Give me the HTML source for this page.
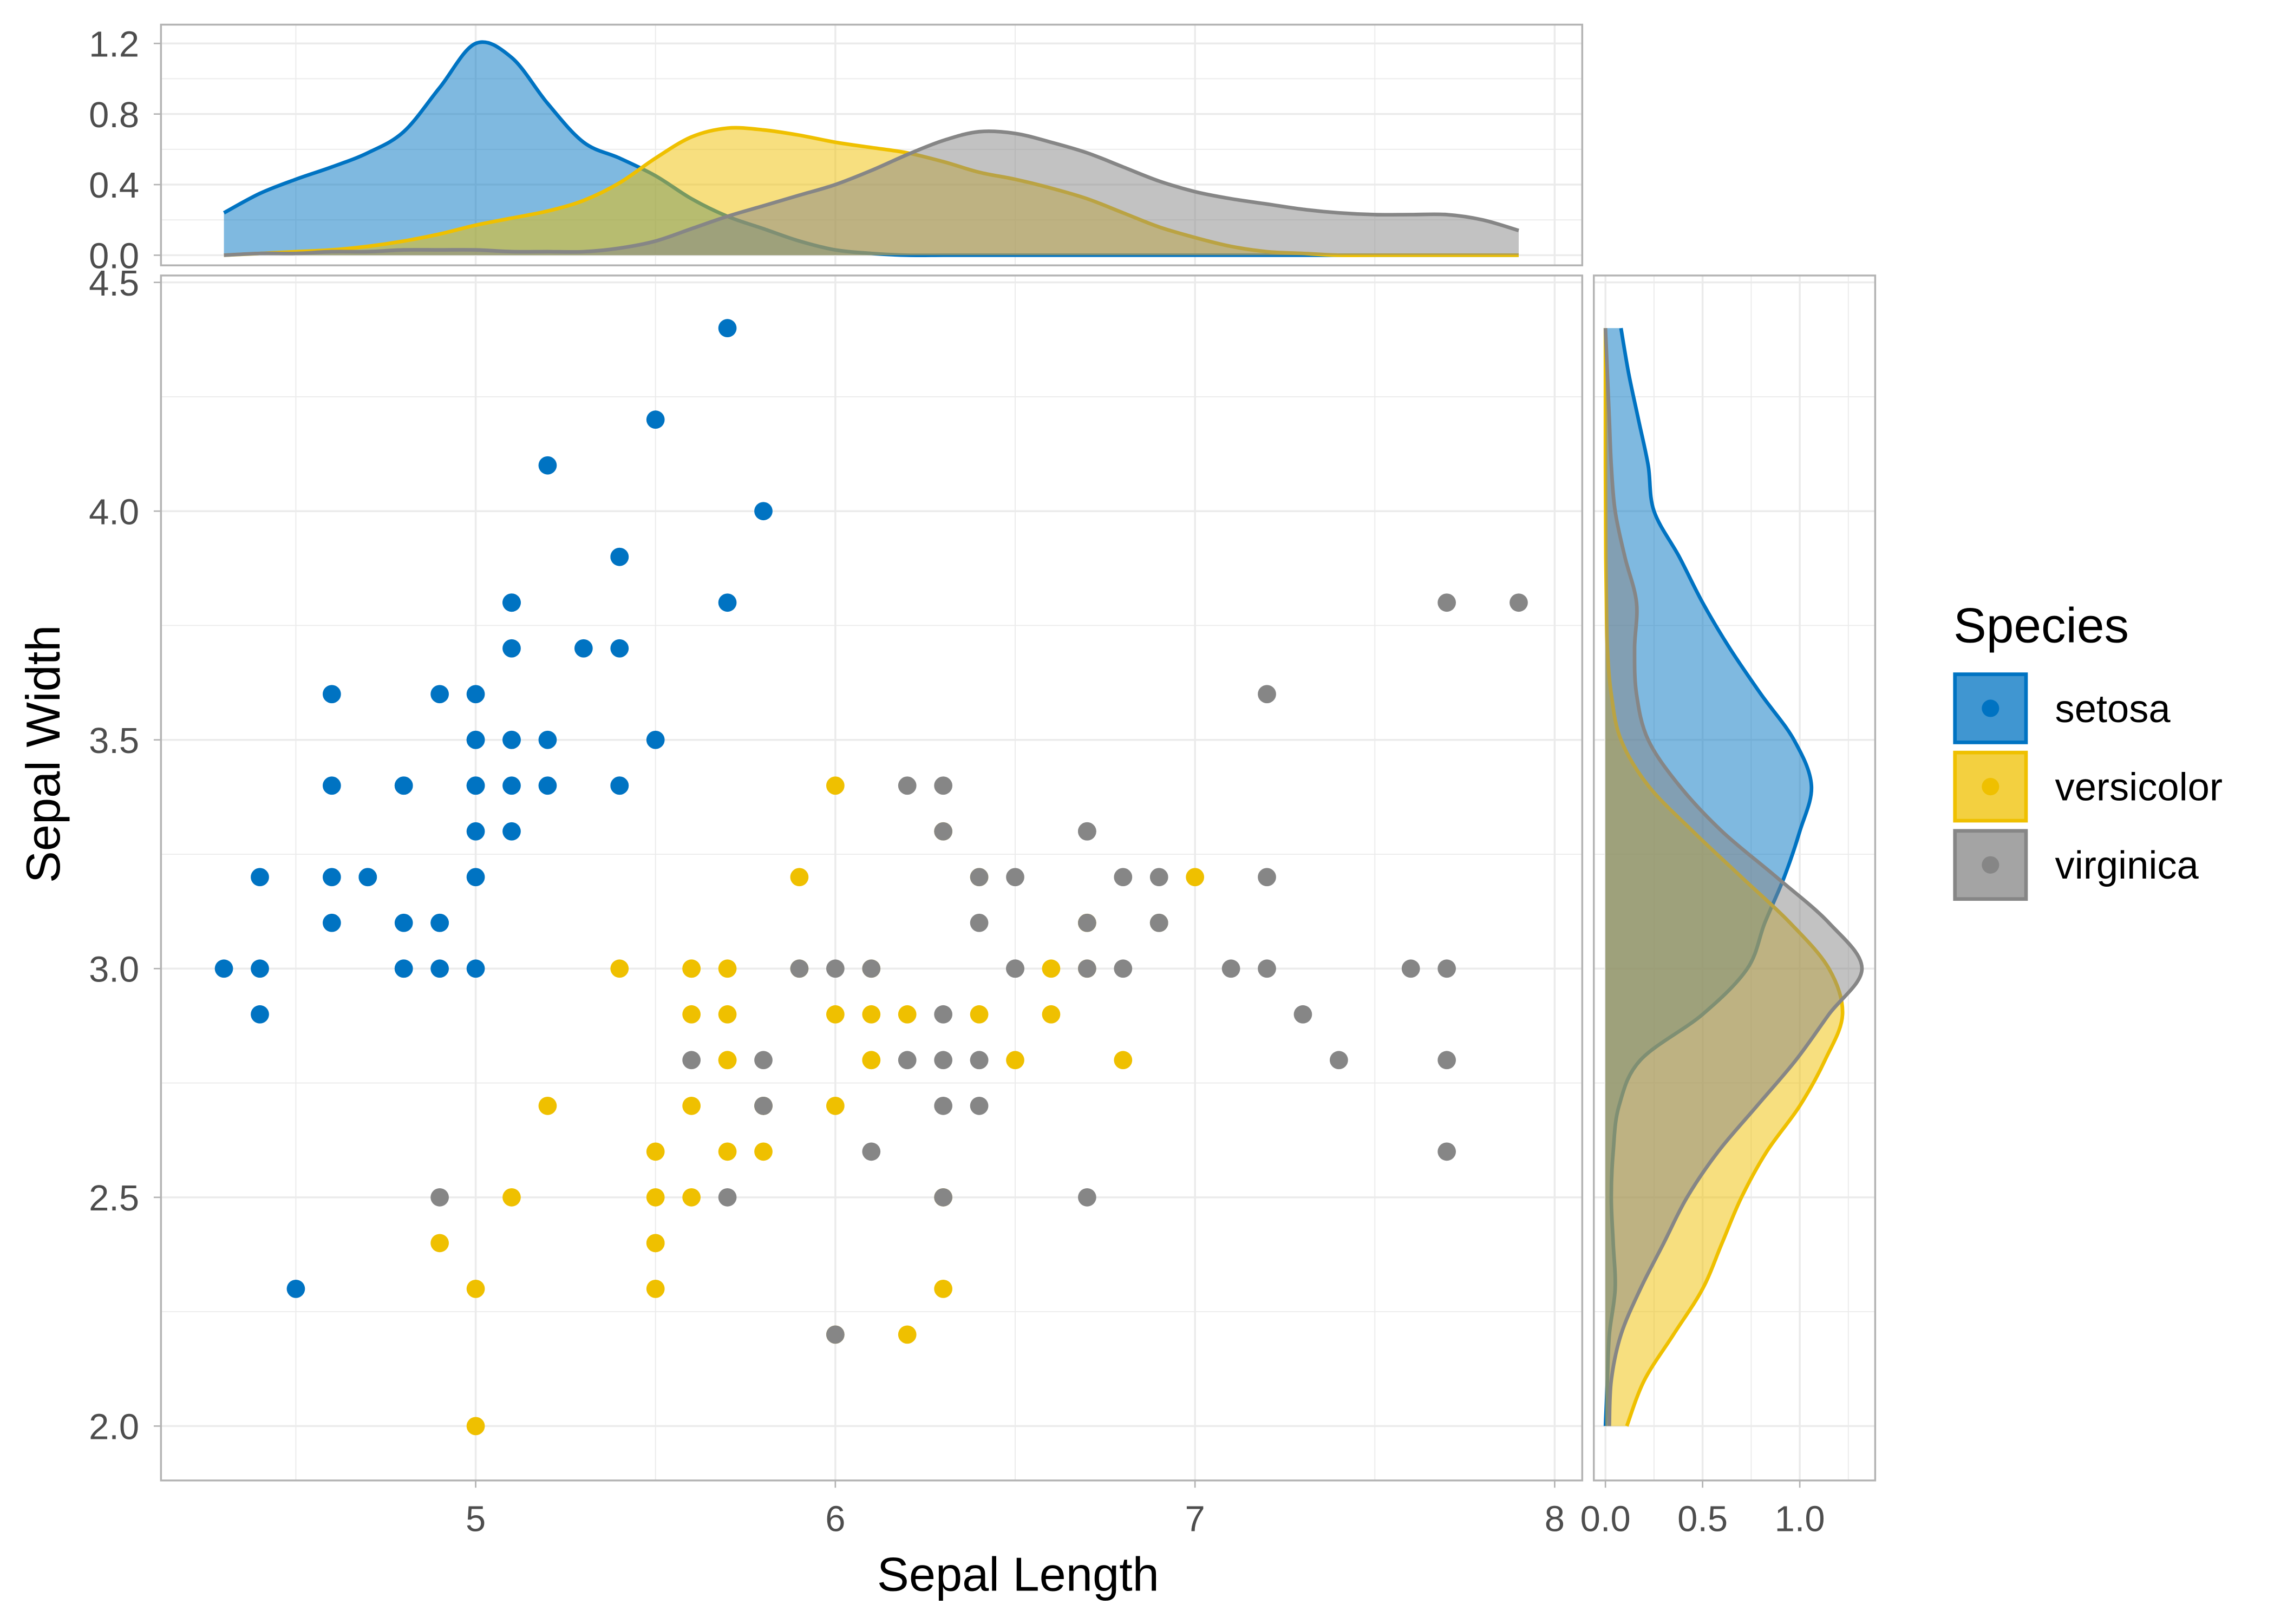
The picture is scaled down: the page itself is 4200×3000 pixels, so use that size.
<!DOCTYPE html>
<html><head><meta charset="utf-8"><style>
html,body{margin:0;padding:0;background:#fff}
svg{display:block}
text{font-family:"Liberation Sans",Arial,sans-serif}
</style></head><body>
<svg id="chart" width="4200" height="3000" viewBox="0 0 1568 1120" preserveAspectRatio="none" xmlns="http://www.w3.org/2000/svg">
<g id="mainPanel"></g>
<g id="topPanel"></g>
<g id="rightPanel"></g>
<text x="702" y="1097" font-size="33" text-anchor="middle">Sepal Length</text>
<text transform="translate(41,520) rotate(-90)" font-size="33" text-anchor="middle">Sepal Width</text>
<g>
<text x="1347" y="443" font-size="34">Species</text>
<g><rect x="1348" y="465" width="49" height="47" fill="rgba(0,115,194,0.75)" stroke="#0073C2" stroke-width="2.5"/><circle cx="1372.5" cy="488.5" r="6" fill="#0073C2"/><text x="1417" y="498" font-size="27">setosa</text></g>
<g><rect x="1348" y="519" width="49" height="47" fill="rgba(239,192,0,0.75)" stroke="#EFC000" stroke-width="2.5"/><circle cx="1372.5" cy="542.5" r="6" fill="#EFC000"/><text x="1417" y="552" font-size="27">versicolor</text></g>
<g><rect x="1348" y="573" width="49" height="47" fill="rgba(134,134,134,0.75)" stroke="#868686" stroke-width="2.5"/><circle cx="1372.5" cy="596.5" r="6" fill="#868686"/><text x="1417" y="606" font-size="27">virginica</text></g>
</g>
</svg>
<script>
const species = ['setosa','versicolor','virginica'];
const colors = ['#0073C2','#EFC000','#868686'];
const setosaLength = [5.1,4.9,4.7,4.6,5.0,5.4,4.6,5.0,4.4,4.9,5.4,4.8,4.8,4.3,5.8,5.7,5.4,5.1,5.7,5.1,5.4,5.1,4.6,5.1,4.8,5.0,5.0,5.2,5.2,4.7,4.8,5.4,5.2,5.5,4.9,5.0,5.5,4.9,4.4,5.1,5.0,4.5,4.4,5.0,5.1,4.8,5.1,4.6,5.3,5.0];
const setosaWidth = [3.5,3.0,3.2,3.1,3.6,3.9,3.4,3.4,2.9,3.1,3.7,3.4,3.0,3.0,4.0,4.4,3.9,3.5,3.8,3.8,3.4,3.7,3.6,3.3,3.4,3.0,3.4,3.5,3.4,3.2,3.1,3.4,4.1,4.2,3.1,3.2,3.5,3.6,3.0,3.4,3.5,2.3,3.2,3.5,3.8,3.0,3.8,3.2,3.7,3.3];
const versicolorLength = [7.0,6.4,6.9,5.5,6.5,5.7,6.3,4.9,6.6,5.2,5.0,5.9,6.0,6.1,5.6,6.7,5.6,5.8,6.2,5.6,5.9,6.1,6.3,6.1,6.4,6.6,6.8,6.7,6.0,5.7,5.5,5.5,5.8,6.0,5.4,6.0,6.7,6.3,5.6,5.5,5.5,6.1,5.8,5.0,5.6,5.7,5.7,6.2,5.1,5.7];
const versicolorWidth = [3.2,3.2,3.1,2.3,2.8,2.8,3.3,2.4,2.9,2.7,2.0,3.0,2.2,2.9,2.9,3.1,3.0,2.7,2.2,2.5,3.2,2.8,2.5,2.8,2.9,3.0,2.8,3.0,2.9,2.6,2.4,2.4,2.7,2.7,3.0,3.4,3.1,2.3,3.0,2.5,2.6,3.0,2.6,2.3,2.7,3.0,2.9,2.9,2.5,2.8];
const virginicaLength = [6.3,5.8,7.1,6.3,6.5,7.6,4.9,7.3,6.7,7.2,6.5,6.4,6.8,5.7,5.8,6.4,6.5,7.7,7.7,6.0,6.9,5.6,7.7,6.3,6.7,7.2,6.2,6.1,6.4,7.2,7.4,7.9,6.4,6.3,6.1,7.7,6.3,6.4,6.0,6.9,6.7,6.9,5.8,6.8,6.7,6.7,6.3,6.5,6.2,5.9];
const virginicaWidth = [3.3,2.7,3.0,2.9,3.0,3.0,2.5,2.9,2.5,3.6,3.2,2.7,3.0,2.5,2.8,3.2,3.0,3.8,2.6,2.2,3.2,2.8,2.8,2.7,3.3,3.2,2.8,3.0,2.8,3.0,2.8,3.8,2.8,2.8,2.6,3.0,3.4,3.1,3.0,3.1,3.1,3.1,2.7,3.2,3.3,3.0,2.5,3.0,3.4,3.0];
const lengthGrid = [4.3,4.4,4.5,4.6,4.7,4.8,4.9,5.0,5.1,5.2,5.3,5.4,5.5,5.6,5.7,5.8,5.9,6.0,6.1,6.2,6.3,6.4,6.5,6.6,6.7,6.8,6.9,7.0,7.1,7.2,7.3,7.4,7.5,7.6,7.7,7.8,7.9];
const setosaLenDens = [0.24,0.35,0.43,0.5,0.58,0.7,0.95,1.2,1.12,0.86,0.64,0.55,0.45,0.32,0.22,0.15,0.08,0.03,0.01,0,0,0,0,0,0,0,0,0,0,0,0,0,0,0,0,0,0];
const versicolorLenDens = [0,0.01,0.02,0.03,0.05,0.08,0.12,0.17,0.21,0.25,0.31,0.41,0.55,0.67,0.72,0.71,0.68,0.64,0.61,0.58,0.53,0.47,0.43,0.38,0.32,0.24,0.16,0.1,0.05,0.02,0.01,0,0,0,0,0,0];
const virginicaLenDens = [0,0.01,0.01,0.02,0.02,0.03,0.03,0.03,0.02,0.02,0.02,0.04,0.08,0.15,0.22,0.28,0.34,0.4,0.48,0.57,0.65,0.7,0.69,0.64,0.58,0.5,0.42,0.36,0.32,0.29,0.26,0.24,0.23,0.23,0.23,0.2,0.14];
const widthGrid = [2.0,2.1,2.2,2.3,2.4,2.5,2.6,2.7,2.8,2.9,3.0,3.1,3.2,3.3,3.4,3.5,3.6,3.7,3.8,3.9,4.0,4.1,4.2,4.3,4.4];
const setosaWidDens = [0,0.01,0.02,0.05,0.04,0.03,0.04,0.07,0.18,0.5,0.73,0.82,0.92,1.0,1.06,0.97,0.8,0.64,0.5,0.38,0.25,0.22,0.17,0.12,0.08];
const versicolorWidDens = [0.11,0.2,0.35,0.5,0.6,0.7,0.83,1.0,1.13,1.22,1.15,0.95,0.7,0.45,0.22,0.08,0.03,0.01,0.005,0.002,0.001,0,0,0,0];
const virginicaWidDens = [0.02,0.03,0.08,0.18,0.3,0.42,0.58,0.78,0.98,1.15,1.32,1.15,0.88,0.6,0.38,0.22,0.16,0.15,0.16,0.1,0.05,0.03,0.02,0.01,0];
const xTicks = [5,6,7,8];
const yTicks = [2.0,2.5,3.0,3.5,4.0,4.5];
const topTicks = [0.0,0.4,0.8,1.2];
const rightTicks = [0.0,0.5,1.0];

const NS='http://www.w3.org/2000/svg';
function mk(parent,tag,attrs){const e=document.createElementNS(NS,tag);for(const k in attrs)e.setAttribute(k,attrs[k]);parent.appendChild(e);return e;}
const X = v => 328 + (v-5)*248;
const Y = v => 668 - (v-3)*315.5;
const TY = d => 176 - d*121.7;
const RX = d => 1107 + d*134;
const P = {l:111,r:1091,t:190,b:1021};
const T = {t:17,b:183};
const R = {l:1099,r:1293};
const gridC='#ebebeb', borderC='#b3b3b3', tickC='#4d4d4d';
const FS=25;

function smooth(pts){let d='M'+pts[0][0]+','+pts[0][1];for(let i=0;i<pts.length-1;i++){const p0=pts[i-1]||pts[i],p1=pts[i],p2=pts[i+1],p3=pts[i+2]||p2;const c1=[p1[0]+(p2[0]-p0[0])/6,p1[1]+(p2[1]-p0[1])/6],c2=[p2[0]-(p3[0]-p1[0])/6,p2[1]-(p3[1]-p1[1])/6];d+=' C'+c1+' '+c2+' '+p2;}return d;}

const mainG=document.getElementById('mainPanel');
mk(mainG,'rect',{x:P.l,y:P.t,width:P.r-P.l,height:P.b-P.t,fill:'#fff'});
for(let v=4.5;v<=8.01;v+=0.5){mk(mainG,'line',{x1:X(v),x2:X(v),y1:P.t,y2:P.b,stroke:gridC,'stroke-width':Math.abs(v-Math.round(v))<0.01?1.3:0.7});}
for(let v=2.0;v<=4.51;v+=0.25){mk(mainG,'line',{x1:P.l,x2:P.r,y1:Y(v),y2:Y(v),stroke:gridC,'stroke-width':Math.abs(v*2-Math.round(v*2))<0.01?1.3:0.7});}
const ptsAll=[[setosaLength,setosaWidth],[versicolorLength,versicolorWidth],[virginicaLength,virginicaWidth]];
ptsAll.forEach((s,k)=>{s[0].forEach((lx,i)=>{const c=mk(mainG,'circle',{cx:X(lx),cy:Y(s[1][i]),r:6.3,fill:colors[k]});

});});
mk(mainG,'rect',{x:P.l,y:P.t,width:P.r-P.l,height:P.b-P.t,fill:'none',stroke:borderC,'stroke-width':1.3});
xTicks.forEach(v=>{mk(mainG,'line',{x1:X(v),x2:X(v),y1:P.b,y2:P.b+5,stroke:borderC});const t=mk(mainG,'text',{x:X(v),y:P.b+35,'font-size':FS,'text-anchor':'middle',fill:tickC});t.textContent=v;

});
yTicks.forEach(v=>{mk(mainG,'line',{x1:P.l-5,x2:P.l,y1:Y(v),y2:Y(v),stroke:borderC});const t=mk(mainG,'text',{x:P.l-15,y:Y(v)+9,'font-size':FS,'text-anchor':'end',fill:tickC});t.textContent=v.toFixed(1);

});

const topG=document.getElementById('topPanel');
mk(topG,'rect',{x:P.l,y:T.t,width:P.r-P.l,height:T.b-T.t,fill:'#fff'});
for(let v=4.5;v<=8.01;v+=0.5)mk(topG,'line',{x1:X(v),x2:X(v),y1:T.t,y2:T.b,stroke:gridC,'stroke-width':Math.abs(v-Math.round(v))<0.01?1.3:0.7});
for(let i=0;i<=6;i++){const v=i*0.2;mk(topG,'line',{x1:P.l,x2:P.r,y1:TY(v),y2:TY(v),stroke:gridC,'stroke-width':i%2===0?1.3:0.7});}
[setosaLenDens,versicolorLenDens,virginicaLenDens].forEach((ds,k)=>{const p=lengthGrid.map((g,i)=>[X(g),TY(ds[i])]);const line=smooth(p);
const a=mk(topG,'path',{d:line+' L'+X(lengthGrid[lengthGrid.length-1])+','+TY(0)+' L'+X(lengthGrid[0])+','+TY(0)+' Z',fill:colors[k],'fill-opacity':0.5});


mk(topG,'path',{d:line,fill:'none',stroke:colors[k],'stroke-width':2.5});});
mk(topG,'rect',{x:P.l,y:T.t,width:P.r-P.l,height:T.b-T.t,fill:'none',stroke:borderC,'stroke-width':1.3});
topTicks.forEach(v=>{mk(topG,'line',{x1:P.l-5,x2:P.l,y1:TY(v),y2:TY(v),stroke:borderC});const t=mk(topG,'text',{x:P.l-15,y:TY(v)+9,'font-size':FS,'text-anchor':'end',fill:tickC});t.textContent=v.toFixed(1);

});

const rightG=document.getElementById('rightPanel');
mk(rightG,'rect',{x:R.l,y:P.t,width:R.r-R.l,height:P.b-P.t,fill:'#fff'});
for(let v=2.0;v<=4.51;v+=0.25)mk(rightG,'line',{x1:R.l,x2:R.r,y1:Y(v),y2:Y(v),stroke:gridC,'stroke-width':Math.abs(v*2-Math.round(v*2))<0.01?1.3:0.7});
for(let i=0;i<=5;i++){const v=i*0.25;mk(rightG,'line',{x1:RX(v),x2:RX(v),y1:P.t,y2:P.b,stroke:gridC,'stroke-width':i%2===0?1.3:0.7});}
[setosaWidDens,versicolorWidDens,virginicaWidDens].forEach((ds,k)=>{const p=widthGrid.map((g,i)=>[RX(ds[i]),Y(g)]);const line=smooth(p);
const a=mk(rightG,'path',{d:line+' L'+RX(0)+','+Y(widthGrid[widthGrid.length-1])+' L'+RX(0)+','+Y(widthGrid[0])+' Z',fill:colors[k],'fill-opacity':0.5});


mk(rightG,'path',{d:line,fill:'none',stroke:colors[k],'stroke-width':2.5});});
mk(rightG,'rect',{x:R.l,y:P.t,width:R.r-R.l,height:P.b-P.t,fill:'none',stroke:borderC,'stroke-width':1.3});
rightTicks.forEach(v=>{mk(rightG,'line',{x1:RX(v),x2:RX(v),y1:P.b,y2:P.b+5,stroke:borderC});const t=mk(rightG,'text',{x:RX(v),y:P.b+35,'font-size':FS,'text-anchor':'middle',fill:tickC});t.textContent=v.toFixed(1);

});
</script>
</body></html>
